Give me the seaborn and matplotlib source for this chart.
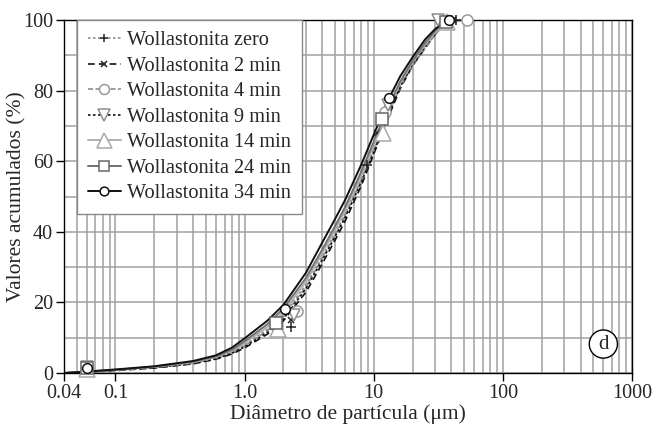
import numpy as np
import pandas as pd
import matplotlib
matplotlib.use('Agg')
import matplotlib.pyplot as plt
import seaborn as sns
from matplotlib.lines import Line2D
from matplotlib.ticker import FixedLocator, LogLocator, MultipleLocator, NullFormatter

# particle diameter grid (um)
diam = [0.04, 0.06, 0.1, 0.2, 0.4, 0.6, 0.8, 1.0, 1.5, 2, 3, 4, 5, 6, 8, 10,
        13, 16, 20, 25, 30, 35, 40, 50]

# cumulative values (%)
cum_zero = [0, 0.3, 0.8, 1.6, 2.9, 4.3, 6.0, 8.0, 12.3, 16.5, 25, 33, 39.5, 45,
            55, 63.5, 74, 81.5, 87.5, 92.5, 96.5, 98.5, 99.6, 100]
cum_2 = [0, 0.3, 0.7, 1.4, 2.6, 3.9, 5.4, 7.1, 11, 14.8, 23, 31, 37.5, 43,
         53, 62, 72.5, 80.5, 87, 92, 96, 98.5, 99.7, 100]
cum_4 = [0, 0.3, 0.8, 1.6, 2.8, 4.2, 5.8, 7.7, 12, 16, 24.5, 32.5, 39, 44.5,
         54.5, 63, 73.5, 81, 87, 92, 96, 98.3, 99.5, 100]
cum_9 = [0, 0.3, 0.8, 1.5, 2.7, 4.0, 5.6, 7.4, 11.5, 15.3, 24, 32, 38.5, 44,
         54, 62.5, 73, 81, 87.5, 92.5, 97, 99.5, 100, 100]
cum_14 = [0, 0.4, 0.9, 1.7, 3.0, 4.5, 6.3, 8.5, 13, 17.3, 26, 34, 40.5, 46,
          56, 64.5, 75, 82, 88, 93, 96.5, 98.8, 99.8, 100]
cum_24 = [0, 0.4, 0.9, 1.8, 3.2, 4.7, 6.6, 9.0, 13.8, 18.3, 27, 35, 41.5, 47,
          57, 65.5, 75.5, 82.5, 88.5, 93.5, 97, 99, 100, 100]
cum_34 = [0, 0.4, 1.0, 1.9, 3.4, 5.0, 7.2, 9.8, 14.8, 19.3, 28.5, 37, 43.5, 49,
          59, 67.5, 77.5, 84, 89.5, 94.5, 97.5, 99.3, 100, 100]

# marker points per series
mk_x_zero, mk_y_zero = [0.06, 2.3, 8.9, 43], [1.6, 13.0, 59, 100]
mk_x_2, mk_y_2 = [0.06, 2.3, 10.6, 41], [1.7, 15.0, 68, 100]
mk_x_4, mk_y_4 = [0.06, 2.55, 12.2, 53], [1.4, 17.6, 74, 100]
mk_x_9, mk_y_9 = [0.06, 2.4, 12.8, 31.5], [1.8, 16.5, 76, 100]
mk_x_14, mk_y_14 = [0.06, 1.8, 11.8, 37], [1.2, 12.5, 68, 99.5]
mk_x_24, mk_y_24 = [0.06, 1.75, 11.6, 36], [1.3, 14.2, 72, 99.5]
mk_x_34, mk_y_34 = [0.06, 2.06, 13.2, 38], [1.5, 18.1, 78, 100]

labels = ['Wollastonita zero', 'Wollastonita 2 min', 'Wollastonita 4 min',
          'Wollastonita 9 min', 'Wollastonita 14 min', 'Wollastonita 24 min',
          'Wollastonita 34 min']

sns.set_style('white')
plt.rcParams['font.family'] = ['Liberation Serif', 'DejaVu Serif']

series = [
    # curve, mk x, mk y, line color, ls, marker, marker color, ms, lw
    (cum_zero, mk_x_zero, mk_y_zero, '#8c8c8c', (0, (1.5, 1.5)), '+', '#222222', 7, 1.2),
    (cum_2, mk_x_2, mk_y_2, '#111111', (0, (4, 2.5)), 'x', '#222222', 5, 1.2),
    (cum_4, mk_x_4, mk_y_4, '#8c8c8c', (0, (3, 1.5)), 'o', '#9a9a9a', 8, 1.2),
    (cum_9, mk_x_9, mk_y_9, '#111111', (0, (1.5, 1.5)), 'v', '#8c8c8c', 9, 1.2),
    (cum_14, mk_x_14, mk_y_14, '#b0b0b0', '-', '^', '#a8a8a8', 12, 1.4),
    (cum_24, mk_x_24, mk_y_24, '#707070', '-', 's', '#666666', 8, 1.4),
    (cum_34, mk_x_34, mk_y_34, '#111111', '-', 'o', '#111111', 7, 1.4),
]

fig = plt.figure(figsize=(6.58, 4.24), dpi=100)
ax = fig.add_axes([0.0973, 0.1203, 0.8632, 0.8325])

handles = []
for (cum, mx, my, col, ls, mk, mcol, ms, lw), lab in zip(series, labels):
    df = pd.DataFrame({'d': diam, 'v': cum})
    sns.lineplot(data=df, x='d', y='v', ax=ax, color=col, linestyle=ls, lw=lw,
                 sort=False, legend=False, zorder=3)
    ax.plot(mx, my, linestyle='none', marker=mk, ms=ms, mfc='white', mec=mcol,
            mew=1.1, clip_on=False, zorder=4)
    handles.append(Line2D([], [], color=col, linestyle=ls, lw=lw, marker=mk,
                          ms=ms * 0.9, mfc='white', mec=mcol, mew=1.1))

ax.set_xscale('log')
ax.set_xlim(0.04, 1000)
ax.set_ylim(0, 100)

ax.xaxis.set_major_locator(FixedLocator([0.04, 0.1, 1, 10, 100, 1000]))
ax.set_xticklabels(['0.04', '0.1', '1.0', '10', '100', '1000'])
ax.xaxis.set_minor_locator(LogLocator(base=10, subs=np.arange(2, 10)))
ax.xaxis.set_minor_formatter(NullFormatter())
ax.yaxis.set_major_locator(MultipleLocator(20))
ax.yaxis.set_minor_locator(MultipleLocator(10))

ax.grid(which='both', color='#a0a0a0', lw=1.1)
ax.set_axisbelow(True)
ax.tick_params(which='major', direction='out', length=6, width=1,
               color='black', labelsize=14.5, pad=2, left=True, bottom=True)
ax.tick_params(which='minor', length=0)
for sp in ax.spines.values():
    sp.set_color('black')
    sp.set_linewidth(1)

ax.set_xlabel('Diâmetro de partícula (μm)', fontsize=15.5, labelpad=1)
ax.set_ylabel('Valores acumulados (%)', fontsize=15.5)
ax.yaxis.set_label_coords(-0.066, 0.5)

leg = ax.legend(handles, labels, loc='upper left', bbox_to_anchor=(0.023, 1.0),
                borderaxespad=0, fontsize=14.6, handlelength=1.6,
                handletextpad=0.3, labelspacing=0.31, borderpad=0.55,
                frameon=True, fancybox=False, framealpha=1)
leg.get_frame().set_edgecolor('#888888')
leg.get_frame().set_linewidth(1)

ax.text(600, 8.2, 'd', fontsize=15, ha='center', va='center', zorder=5,
        bbox=dict(boxstyle='circle,pad=0.22', fc='white', ec='black', lw=1))

fig.savefig('out.png', dpi=100)
